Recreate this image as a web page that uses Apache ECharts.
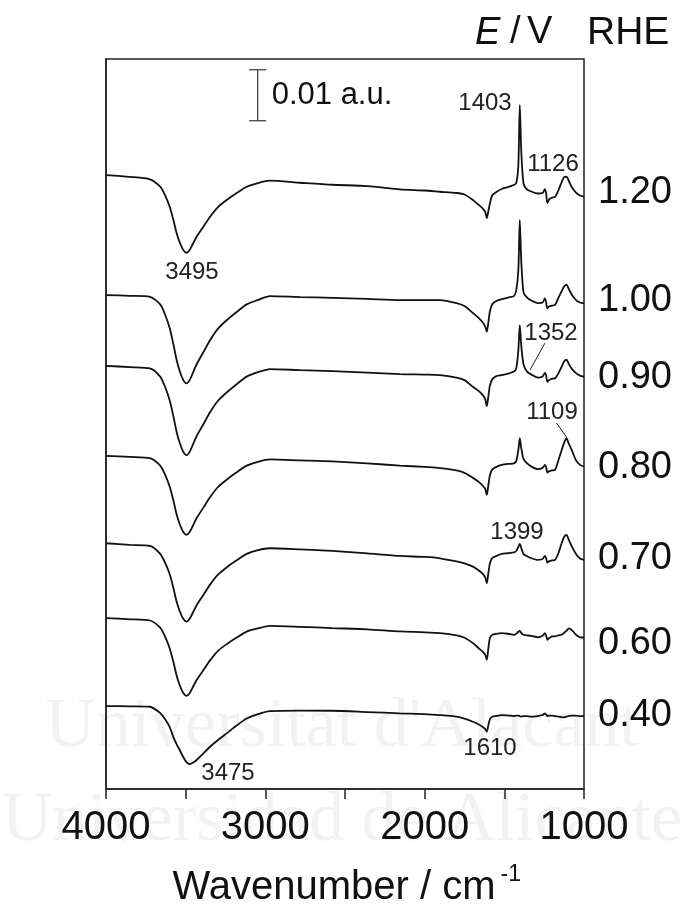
<!DOCTYPE html>
<html><head><meta charset="utf-8">
<script src="https://cdn.jsdelivr.net/npm/echarts/dist/echarts.min.js"></script>
<style>html,body{margin:0;padding:0;background:#fff}#main{width:683px;height:906px}</style>
</head><body><div id="main"></div>
<script>
// Wavenumber grid (cm^-1)
const wavenumbers = [4000, 3850, 3724, 3660, 3630, 3600, 3577, 3557, 3536, 3515, 3495, 3475, 3452, 3431, 3390, 3347, 3297, 3243, 3180, 3117, 3046, 2971, 2780, 2580, 2360, 2155, 2000, 1904, 1800, 1750, 1697, 1660, 1635, 1620, 1610, 1600, 1590, 1575, 1550, 1517, 1477, 1440, 1425, 1412, 1403, 1394, 1380, 1360, 1330, 1290, 1260, 1245, 1238, 1230, 1220, 1200, 1182, 1160, 1140, 1125, 1110, 1095, 1075, 1050, 1025, 1000];

// Potentials (V vs RHE)
const potentials = ['1.20', '1.00', '0.90', '0.80', '0.70', '0.60', '0.40'];

// Vertical stacking offsets (10^-3 a.u.)
const offsets = [116.1, 95.2, 80.8, 63.2, 44.9, 29.7, 14.3];

// Spectra, absorbance change in 10^-3 a.u. (relative to value at 1000 cm^-1)
const spec120 = [4.25, 3.9, 3.41, 1.96, 0.33, -1.96, -4.57, -7.11, -9.07, -10.45, -10.98, -10.45, -9.07, -7.84, -5.94, -3.92, -2.02, -0.65, 0.73, 1.96, 2.69, 3.14,
  2.74, 2.35, 2.1, 1.45, 1.22, 0.98,
  0.73, 0.43, -0.65, -1.63, -2.31, -2.98, -4.17,
  -2.8, -1.23, 0.33, 0.92, 1.51, 1.9, 2.29,
  2.69, 6.21, 17.97, 9.15, 2.69, 1.51,
  1.02, 0.63, 0.73, 1.51, 0.73, -1.23, -0.55, -0.16, -0.06,
  1.31, 2.88, 3.86, 3.96, 3.08, 1.8, 0.82, 0.24, 0];
const spec100 = [1.63, 1.47, 1.29, -0.2, -2.14, -4.88, -8.02, -11.05, -13.41, -15.05, -15.68, -15.05, -13.41, -11.94, -9.64, -7.23, -4.96, -3.31, -1.69, -0.2, 0.67, 1.43,
  1.23, 1.08, 0.88, 0.65, 0.65, 0.65,
  0.06, -0.53, -1.9, -2.88, -3.76, -4.55, -5.57,
  -3.67, -1.51, -0.14, 0.45, 0.84, 1.14, 1.43,
  2.61, 6.53, 16.33, 8.49, 2.21, 1.23,
  0.55, 0.06, 0.16, 0.98, 0.25, -0.98, -0.63, -0.43, -0.33,
  1.14, 2.41, 3.29, 3.68, 2.8, 1.63, 0.65, 0.16, 0];
const spec090 = [2.16, 1.9, 1.65, 0.04, -1.9, -4.63, -7.72, -10.76, -13.09, -14.72, -15.35, -14.72, -13.09, -11.62, -9.35, -6.96, -4.7, -3.08, -1.45, 0.04, 0.9, 1.51,
  1.31, 1.12, 0.82, 0.53, 0.43, 0.33,
  -0.16, -0.65, -1.96, -2.8, -3.59, -4.37, -5.74,
  -3.78, -1.63, -0.45, 0.14, 0.33, 0.63, 1.02,
  1.71, 5.23, 10.13, 6.21, 2.49, 1.12,
  0.43, -0.16, 0.04, 0.78, 0.33, -0.98, -0.65, -0.35, -0.31,
  0.73, 2.0, 2.98, 3.37, 2.49, 1.51, 0.73, 0.24, 0];
const spec080 = [2.1, 1.9, 1.65, 0.18, -1.53, -3.94, -6.66, -9.35, -11.41, -12.84, -13.39, -12.84, -11.41, -10.09, -8.09, -6.0, -4.0, -2.57, -1.12, 0.18, 0.94, 1.41,
  1.22, 1.02, 0.63, 0.2, -0.06, -0.31,
  -0.74, -1.23, -2.21, -3.0, -3.78, -4.37, -5.55,
  -3.59, -1.63, -0.55, -0.06, 0.33, 0.53, 0.63,
  1.12, 3.27, 5.57, 3.67, 1.51, 0.73,
  0, -0.51, -0.25, 0.33, -0.06, -1.18, -0.94, -0.74, -0.65,
  1.31, 3.27, 4.65, 5.57, 4.45, 3.08, 1.22, 0.33, 0];
const spec070 = [3.27, 2.94, 2.74, 1.2, -0.47, -2.82, -5.51, -8.13, -10.15, -11.54, -12.09, -11.54, -10.15, -8.88, -6.92, -4.84, -2.88, -1.47, -0.08, 1.2, 1.94, 2.29,
  2.06, 1.76, 1.27, 0.78, 0.59, 0.33,
  -0.29, -0.69, -1.31, -2.06, -2.74, -3.43, -4.57,
  -2.55, -0.59, 0.39, 0.78, 1.18, 1.31, 1.47,
  1.76, 2.55, 3.14, 2.35, 1.18, 0.78,
  0.33, 0, 0.2, 0.78, 0.39, -0.53, -0.29, -0.1, 0,
  1.37, 3.33, 4.51, 4.9, 3.92, 2.55, 1.18, 0.29, 0];
const spec060 = [3.8, 3.57, 3.33, 1.92, 0.22, -2.14, -4.8, -7.43, -9.45, -10.88, -11.43, -10.94, -9.56, -8.35, -6.47, -4.49, -2.61, -1.31, 0, 1.16, 1.8, 2.29,
  2.1, 1.84, 1.61, 1.18, 1.02, 0.86,
  0.43, -0.06, -1.1, -2.12, -2.8, -3.39, -4.37,
  -2.02, -0.06, 0.53, 0.73, 0.86, 0.73, 0.53,
  0.73, 1.12, 1.31, 0.92, 0.53, 0.43,
  0.33, 0.04, 0.33, 0.86, 0.43, -0.45, -0.16, 0.2, 0.24,
  0.43, 0.53, 0.92, 1.31, 1.8, 1.41, 0.53, 0.04, 0];
const spec040 = [1.96, 1.9, 1.82, 0.59, -0.59, -2.16, -4.12, -5.49, -6.76, -8.04, -9.02, -9.41, -9.11, -8.62, -7.35, -6.02, -4.7, -3.39, -1.86, -0.49, 0.39, 0.98,
  1.08, 1.04, 0.78, 0.53, 0.39, 0.2,
  -0.1, -0.49, -1.12, -1.67, -2.16, -2.55, -3.08,
  -1.76, -0.59, -0.14, 0, 0.2, 0.1, 0,
  0.1, 0.1, 0, -0.1, 0, 0,
  -0.1, 0, 0.2, 0.53, 0.29, 0, 0.1, 0.1, 0,
  -0.1, -0.2, -0.25, -0.1, 0, 0.1, 0.1, 0, 0];

// X axis tick labels
const xTickLabels = [4000, 3000, 2000, 1000];

// Peak annotations
const peakLabels = ['3495', '1403', '1126', '1352', '1109', '1399', '1610', '3475'];

// Scale bar: 0.01 a.u. = 10 (10^-3 a.u.)
const scaleBarSize = 10;

const spectra = [spec120, spec100, spec090, spec080, spec070, spec060, spec040];

const FONT = "'Liberation Sans', Arial, Helvetica, sans-serif";
const chart = echarts.init(document.getElementById('main'), null, {renderer: 'canvas'});

const series = spectra.map((s, i) => ({
  type: 'line',
  name: potentials[i],
  data: wavenumbers.map((w, j) => [w, s[j] + offsets[i]]),
  showSymbol: false,
  smooth: 0.25,
  lineStyle: {color: '#111', width: 1.8},
  z: 5,
  animation: false
}));

chart.setOption({
  animation: false,
  backgroundColor: '#fff',
  grid: {left: 106, right: 99, top: 59, bottom: 117, show: true, borderColor: '#222', borderWidth: 1.5},
  xAxis: {
    type: 'value', min: 1000, max: 4000, interval: 500, inverse: true,
    axisLine: {lineStyle: {color: '#222', width: 1.5}},
    axisTick: {inside: false, length: 10, lineStyle: {color: '#222', width: 1.5}},
    axisLabel: {
      fontFamily: FONT, fontSize: 40, color: '#111', margin: 19,
      formatter: v => xTickLabels.includes(v) ? String(v) : ''
    },
    splitLine: {show: false}
  },
  yAxis: {
    type: 'value', min: 0, max: 143.1,
    axisLine: {show: true, lineStyle: {color: '#222', width: 1.5}},
    axisTick: {show: false}, axisLabel: {show: false}, splitLine: {show: false}
  },
  series: series
});

const px = (w, v) => chart.convertToPixel({gridIndex: 0}, [w, v]);
const measure = (text, font) => {
  const c = document.createElement('canvas').getContext('2d');
  c.font = font;
  return c.measureText(text).width;
};
const gfx = [];

// Watermark (very faint)
gfx.push({type: 'text', z: -100, style: {text: "Universitat d'Alacant", x: 342, y: 728, align: 'center', verticalAlign: 'middle', font: "70px 'Liberation Serif', 'DejaVu Serif', serif", fill: '#f2f2f2'}});
gfx.push({type: 'text', z: -100, style: {text: 'Universidad de Alicante', x: 342, y: 822, align: 'center', verticalAlign: 'middle', font: "70px 'Liberation Serif', 'DejaVu Serif', serif", fill: '#f2f2f2'}});

// Potential labels at spectrum ends
const labelDy = [-4, -3, 1, 1, -1, 6, -1];
potentials.forEach((p, i) => {
  const pt = px(1000, offsets[i]);
  gfx.push({type: 'text', z: 10, style: {text: p, x: pt[0] + 14, y: pt[1] + labelDy[i], align: 'left', verticalAlign: 'middle', font: '38px ' + FONT, fill: '#111'}});
});

// Header "E / V RHE"
gfx.push({type: 'text', z: 10, style: {text: 'E', x: 475, y: 33, align: 'left', verticalAlign: 'middle', font: 'italic 38px ' + FONT, fill: '#111'}});
gfx.push({type: 'text', z: 10, style: {text: '/', x: 510, y: 33, align: 'left', verticalAlign: 'middle', font: '38px ' + FONT, fill: '#111'}});
gfx.push({type: 'text', z: 10, style: {text: 'V', x: 527, y: 33, align: 'left', verticalAlign: 'middle', font: '38px ' + FONT, fill: '#111'}});
gfx.push({type: 'text', z: 10, style: {text: 'RHE', x: 587, y: 33, align: 'left', verticalAlign: 'middle', font: '39px ' + FONT, fill: '#111'}});

// Axis title
const titleFont = '40px ' + FONT;
const titleText = 'Wavenumber / cm';
const tw = measure(titleText, titleFont);
gfx.push({type: 'text', z: 10, style: {text: titleText, x: 334, y: 888, align: 'center', verticalAlign: 'middle', font: titleFont, fill: '#111'}});
gfx.push({type: 'text', z: 10, style: {text: '-1', x: 334 + tw / 2 + 5, y: 875, align: 'left', verticalAlign: 'middle', font: '23px ' + FONT, fill: '#111'}});

// Scale bar
const sb0 = px(3048, 131), sb1 = px(3048, 131 + scaleBarSize);
const sbStyle = {stroke: '#444', lineWidth: 1.3};
gfx.push({type: 'line', z: 10, shape: {x1: sb0[0], y1: sb0[1], x2: sb1[0], y2: sb1[1]}, style: sbStyle});
gfx.push({type: 'line', z: 10, shape: {x1: sb0[0] - 8.5, y1: sb0[1], x2: sb0[0] + 8.5, y2: sb0[1]}, style: sbStyle});
gfx.push({type: 'line', z: 10, shape: {x1: sb1[0] - 8.5, y1: sb1[1], x2: sb1[0] + 8.5, y2: sb1[1]}, style: sbStyle});
gfx.push({type: 'text', z: 10, style: {text: '0.01 a.u.', x: sb0[0] + 14, y: (sb0[1] + sb1[1]) / 2, align: 'left', verticalAlign: 'middle', font: '31px ' + FONT, fill: '#111'}});

// Peak labels
const peakPos = [[192, 272], [485, 103], [553, 164], [551, 333], [552, 412], [517, 532], [490, 748], [228, 773]];
peakLabels.forEach((t, i) => {
  gfx.push({type: 'text', z: 10, style: {text: t, x: peakPos[i][0], y: peakPos[i][1], align: 'center', verticalAlign: 'middle', font: '24px ' + FONT, fill: '#222'}});
});
// Leader lines
gfx.push({type: 'line', z: 10, shape: {x1: 545, y1: 343, x2: 530, y2: 370}, style: {stroke: '#222', lineWidth: 1}});
gfx.push({type: 'line', z: 10, shape: {x1: 556.5, y1: 423, x2: 566.5, y2: 437}, style: {stroke: '#222', lineWidth: 1}});

chart.setOption({graphic: {elements: gfx}});
</script></body></html>
